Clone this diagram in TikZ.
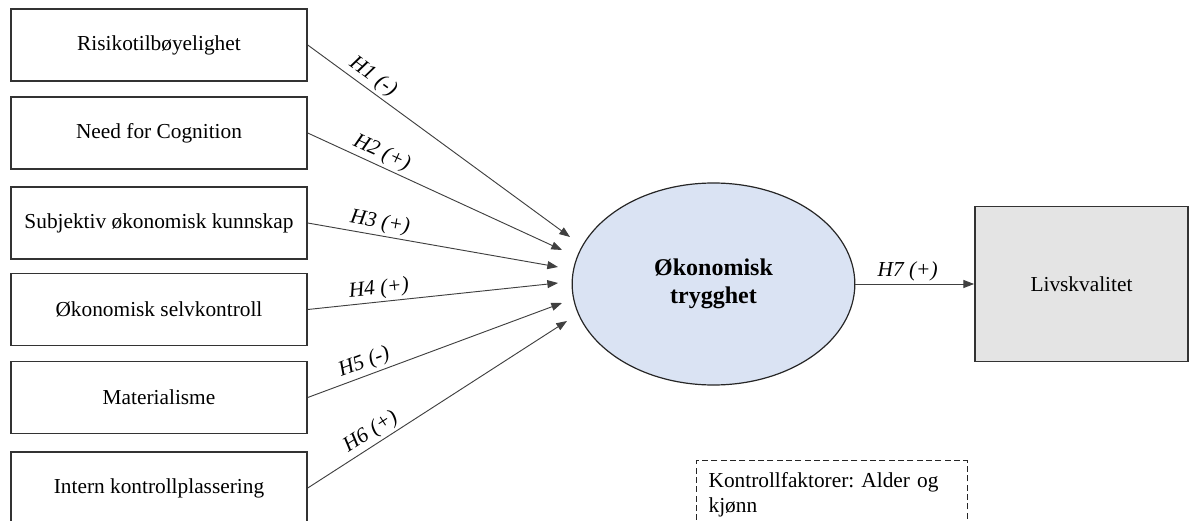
\documentclass[tikz,border=0pt]{standalone}
\usepackage{fontspec}
\setmainfont{Liberation Serif}
\usetikzlibrary{arrows.meta,shapes.geometric}
\definecolor{ellfill}{HTML}{DAE3F3}
\definecolor{livfill}{HTML}{E4E4E4}
\frenchspacing
\begin{document}
\begin{tikzpicture}[x=0.75pt,y=-0.75pt,
  box/.style={draw=black!80, line width=1.1pt, minimum width=222pt, minimum height=54pt,
    inner sep=0pt, font=\fontsize{16}{19}\selectfont},
  conn/.style={draw=black!75, line width=0.7pt, -{Triangle[length=8pt,width=6pt]}},
  hlab/.style={sloped, above, inner sep=2pt, font=\fontsize{16}{19}\selectfont\itshape}]
\useasboundingbox (0,0) rectangle (1190,521);

\node[box] (b1) at (159,45) {Risikotilbøyelighet};
\node[box] (b2) at (159,133) {Need for Cognition};
\node[box] (b3) at (159,223) {Subjektiv økonomisk kunnskap};
\node[box] (b4) at (159,309.5) {Økonomisk selvkontroll};
\node[box] (b5) at (159,397.5) {Materialisme};
\node[box] (b6) at (159,488) {Intern kontrollplassering};

\node[ellipse, draw=black!85, line width=0.9pt, fill=ellfill, minimum width=212pt, minimum height=151.5pt,
  inner sep=0pt, align=center, font=\fontsize{18}{21}\selectfont\bfseries] (ell) at (713.5,284) {Økonomisk\\trygghet};

\node[draw=black!80, line width=1.1pt, fill=livfill, minimum width=160pt, minimum height=116pt,
  inner sep=0pt, font=\fontsize{16}{19}\selectfont] (liv) at (1081.5,284) {Livskvalitet};

\node[draw=black!85, dash pattern=on 4.5pt off 2.5pt, line width=0.9pt, anchor=north west, text width=185pt, align=left,
  inner xsep=9pt, inner ysep=8.6pt, font=\fontsize{16}{18.75}\selectfont] (ctrl) at (696,460)
  {Kontrollfaktorer: Alder og\\kjønn};

\coordinate (e1) at (570,237);
\coordinate (e2) at (562,250);
\coordinate (e3) at (558,267);
\coordinate (e4) at (558,283);
\coordinate (e5) at (562,303);
\coordinate (e6) at (567,321);

\draw[conn] (b1.east) -- node[hlab, pos=0.22] {H1 (-)} (e1);
\draw[conn] (b2.east) -- node[hlab, pos=0.27] {H2 (+)} (e2);
\draw[conn] (b3.east) -- node[hlab, pos=0.28] {H3 (+)} (e3);
\draw[conn] (b4.east) -- node[hlab, pos=0.29] {H4 (+)} (e4);
\draw[conn] (b5.east) -- node[hlab, pos=0.24] {H5 (-)} (e5);
\draw[conn] (b6.east) -- node[hlab, pos=0.27] {H6 (+)} (e6);
\draw[conn] (ell.east) -- node[hlab, pos=0.44] {H7 (+)} (liv.west);
\end{tikzpicture}
\end{document}
